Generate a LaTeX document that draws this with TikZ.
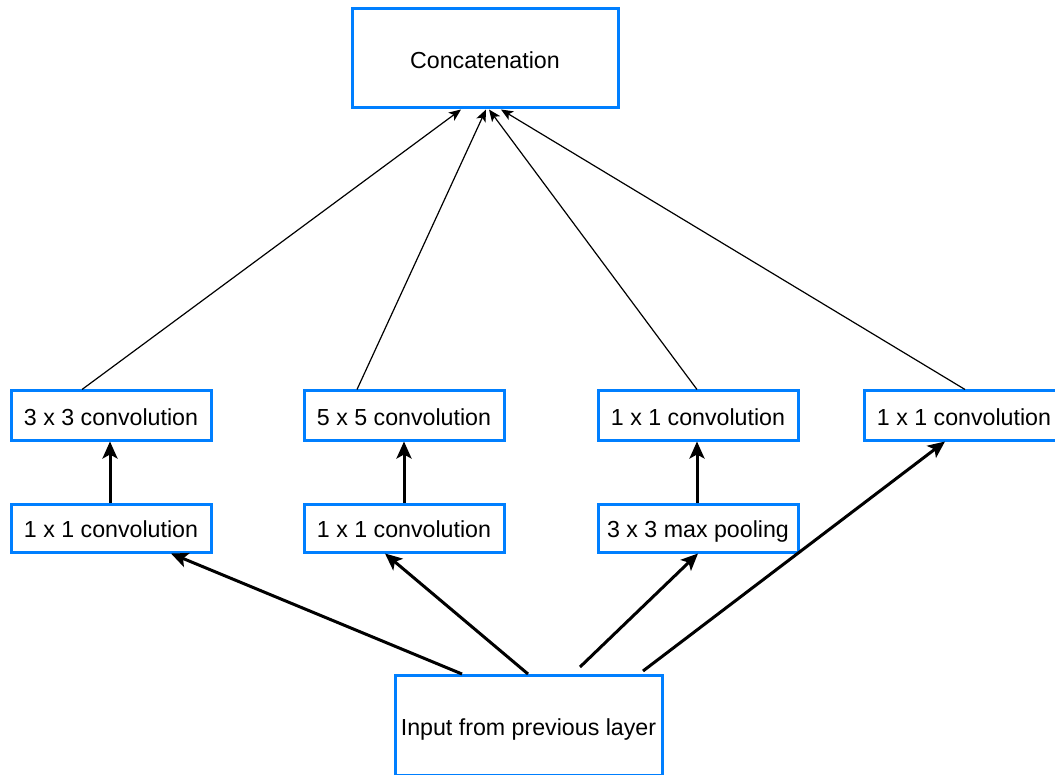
\documentclass[tikz,border=0pt]{standalone}
\usepackage{fontspec}
\setmainfont{Liberation Sans}
\usetikzlibrary{arrows.meta}
\definecolor{boxblue}{RGB}{0,127,255}
\begin{document}
\begin{tikzpicture}[x=1pt,y=-1pt,
  box/.style={draw=boxblue,line width=3pt,fill=white,inner sep=0pt,
    text height=19.6pt,text depth=0pt,
    font=\fontsize{23.2}{27}\selectfont},
  rowbox/.style={box,minimum width=200pt},
  thin/.style={line width=1.2pt,-{Stealth[length=12pt,width=10pt,inset=3pt]}},
  thick/.style={line width=3pt,-{Stealth[length=17pt,width=15pt,inset=4pt]}}]
\useasboundingbox (0,0) rectangle (1055,775);

% output and input blocks
\node[box,minimum width=266pt,minimum height=99pt] (concat) at (485,58.5) {Concatenation};
\node[box,minimum width=267pt,minimum height=100pt] (input) at (528.5,725.5) {Input from previous layer};

% upper row of branches
\node[rowbox,minimum height=49pt] (c33) at (111,415.5) {3 x 3 convolution};
\node[rowbox,minimum height=49pt] (c55) at (404,415.5) {5 x 5 convolution};
\node[rowbox,minimum height=49pt] (c11p) at (698,415.5) {1 x 1 convolution};
\node[rowbox,minimum height=49pt] (c11d) at (964,415.5) {1 x 1 convolution};

% lower row of branches
\node[rowbox,minimum height=48pt] (r33) at (111,528) {1 x 1 convolution};
\node[rowbox,minimum height=48pt] (r55) at (404,528) {1 x 1 convolution};
\node[rowbox,minimum height=48pt] (pool) at (698,528) {3 x 3 max pooling};

% branches into the concatenation
\draw[thin] ([xshift=-29pt]c33.north) -- ([xshift=-24pt]concat.south);
\draw[thin] ([xshift=-47pt]c55.north) -- ([xshift=1pt]concat.south);
\draw[thin] ([xshift=-1pt]c11p.north) -- ([xshift=4pt]concat.south);
\draw[thin] ([xshift=1pt]c11d.north) -- ([xshift=16pt]concat.south);

% inside each branch
\draw[thick] ([xshift=-1pt]r33.north) -- ([xshift=-1pt]c33.south);
\draw[thick] (r55.north) -- (c55.south);
\draw[thick] ([xshift=-1pt]pool.north) -- ([xshift=-1pt]c11p.south);

% input fanning out to the branches
\draw[thick] ([xshift=-66.5pt]input.north) -- ([xshift=60pt]r33.south);
\draw[thick] ([xshift=-0.5pt]input.north) -- ([xshift=-19pt]r55.south);
\draw[thick] ([xshift=51.5pt,yshift=7pt]input.north) -- (pool.south);
\draw[thick] ([xshift=114.5pt,yshift=3pt]input.north) -- ([xshift=-19pt]c11d.south);
\end{tikzpicture}
\end{document}
